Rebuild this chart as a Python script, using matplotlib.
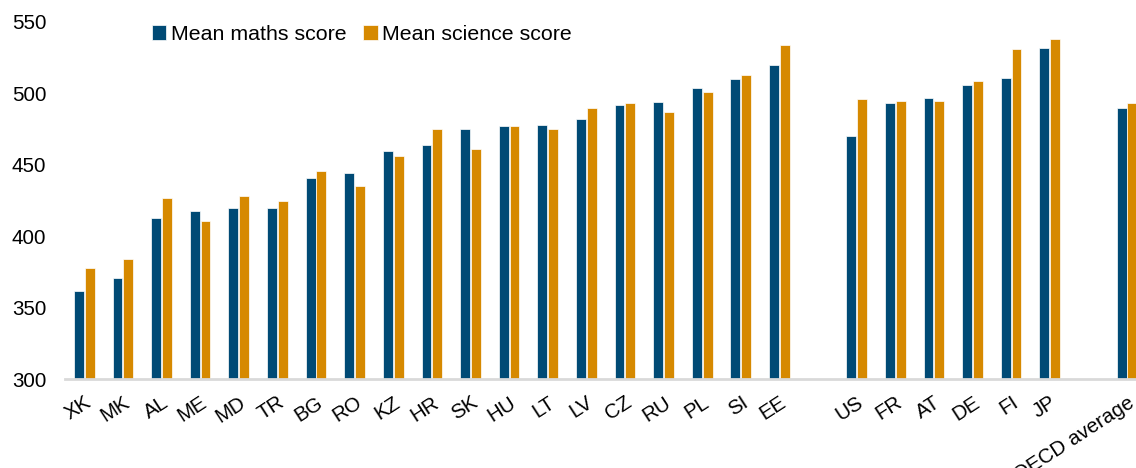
import matplotlib
matplotlib.use("Agg")
import matplotlib.pyplot as plt
import numpy as np

plt.rcParams['font.family'] = ['Liberation Sans', 'DejaVu Sans']

countries = ["XK", "MK", "AL", "ME", "MD", "TR", "BG", "RO", "KZ", "HR", "SK", "HU",
             "LT", "LV", "CZ", "RU", "PL", "SI", "EE",
             "US", "FR", "AT", "DE", "FI", "JP",
             "OECD average"]
maths = [362, 371, 413, 418, 420, 420, 441, 444, 460, 464, 475, 477,
         478, 482, 492, 494, 504, 510, 520,
         470, 493, 497, 506, 511, 532,
         490]
science = [378, 384, 427, 411, 428, 425, 446, 435, 456, 475, 461, 477,
           475, 490, 493, 487, 501, 513, 534,
           496, 495, 495, 509, 531, 538,
           493]
group_sizes = [19, 6, 1]

# positions with a one-slot gap between groups
pos = []
start = 0
for g in group_sizes:
    pos.extend(range(start, start + g))
    start += g + 1
pos = np.array(pos, dtype=float)

navy = "#004A75"
orange = "#D68900"

fig = plt.figure(figsize=(11.36, 4.68), dpi=100)
ax = fig.add_axes([0.0572, 0.190, 0.9428, 0.763])

w = 0.255
off = 0.14
ax.bar(pos - off, maths, width=w, color=navy, edgecolor="white", linewidth=0.5,
       label="Mean maths score")
ax.bar(pos + off, science, width=w, color=orange, edgecolor="white", linewidth=0.5,
       label="Mean science score")

ax.set_ylim(300, 550)
ax.set_xlim(-0.5, 27.233)
ax.set_yticks([300, 350, 400, 450, 500, 550])
ax.tick_params(axis='y', length=0, labelsize=14.8, pad=13.5, colors="#000000")
ax.set_xticks(pos)
ax.set_xticklabels(countries, rotation=33, ha='right', va='top',
                   rotation_mode='anchor', fontsize=14.8)
ax.tick_params(axis='x', length=0, pad=10)

for s in ["top", "right", "left"]:
    ax.spines[s].set_visible(False)
ax.spines["bottom"].set_color("#D9D9D9")
ax.spines["bottom"].set_linewidth(2)

leg = ax.legend(loc="upper left", bbox_to_anchor=(0.073, 1.015), ncol=2, frameon=False,
                fontsize=15.4, handlelength=0.68, handleheight=0.68, handletextpad=0.2,
                columnspacing=0.8, borderaxespad=0)

fig.savefig("out.png", dpi=100)
